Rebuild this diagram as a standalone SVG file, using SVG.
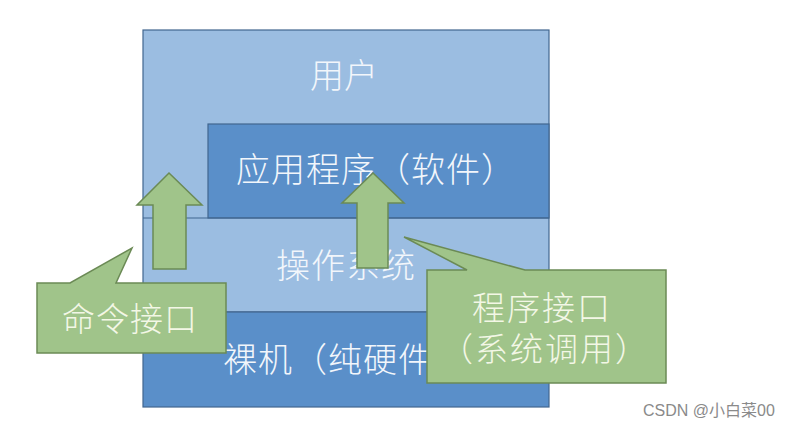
<svg xmlns="http://www.w3.org/2000/svg" width="792" height="429" viewBox="0 0 792 429">
<style>
.lb{fill:#9bbde1;stroke:#41668f;stroke-width:1.2}
.db{fill:#5a8fc9;stroke:#41668f;stroke-width:1.2}
.gr{fill:#a0c48a;stroke:#6b8a55;stroke-width:1.5;stroke-linejoin:miter}
.t{font-family:"Noto Sans CJK SC","Noto Sans",sans-serif;font-size:34px;font-weight:300;fill:#f2f6fb}
.gt{font-family:"Noto Sans CJK SC","Noto Sans",sans-serif;font-size:33px;font-weight:300;fill:#f3f7e6}
.wm{font-family:"Liberation Sans","Noto Sans CJK SC",sans-serif;font-size:16px;fill:#8a8a8a}
</style>
<rect width="792" height="429" fill="#ffffff"/>
<g id="user">
<rect class="lb" x="143" y="30" width="406" height="282"/>
<text class="t" x="310 344" y="88">用户</text>
</g>
<g id="app">
<rect class="db" x="208" y="124" width="341" height="94"/>
<text class="t" x="236 271 306 341 376 411 446 481" y="182">应用程序（软件）</text>
</g>
<g id="os">
<line x1="143" y1="218" x2="549" y2="218" stroke="#41668f" stroke-width="1.2"/>
<text class="t" x="276 311 346 381" y="278">操作系统</text>
</g>
<g id="hw">
<rect class="db" x="143" y="312" width="406" height="95"/>
<text class="t" x="223 258 293 328 363 398 433" y="372">裸机（纯硬件）</text>
</g>
<g id="connectors">
<polygon id="arrow-cmd" class="gr" points="169,173 202,205 186,205 186,269 153,269 153,205 137,205"/>
<polygon id="arrow-prog" class="gr" points="373,173 404,203 388,203 388,268 357,268 357,203 342,203"/>
</g>
<g id="cmd-callout">
<polygon class="gr" points="37,283 70,283 132,248 116,283 226,283 226,353 37,353"/>
<text class="gt" x="62 96 130 164" y="331">命令接口</text>
</g>
<g id="prog-callout">
<polygon class="gr" points="427,270 467,270 404,237 525,270 666,270 666,383 427,383"/>
<text class="gt" x="472 507 542 577" y="320">程序接口</text>
<text class="gt" x="440 475 510 545 580 615" y="361">（系统调用）</text>
</g>
<text class="wm" x="643" y="416">CSDN @小白菜00</text>
</svg>
